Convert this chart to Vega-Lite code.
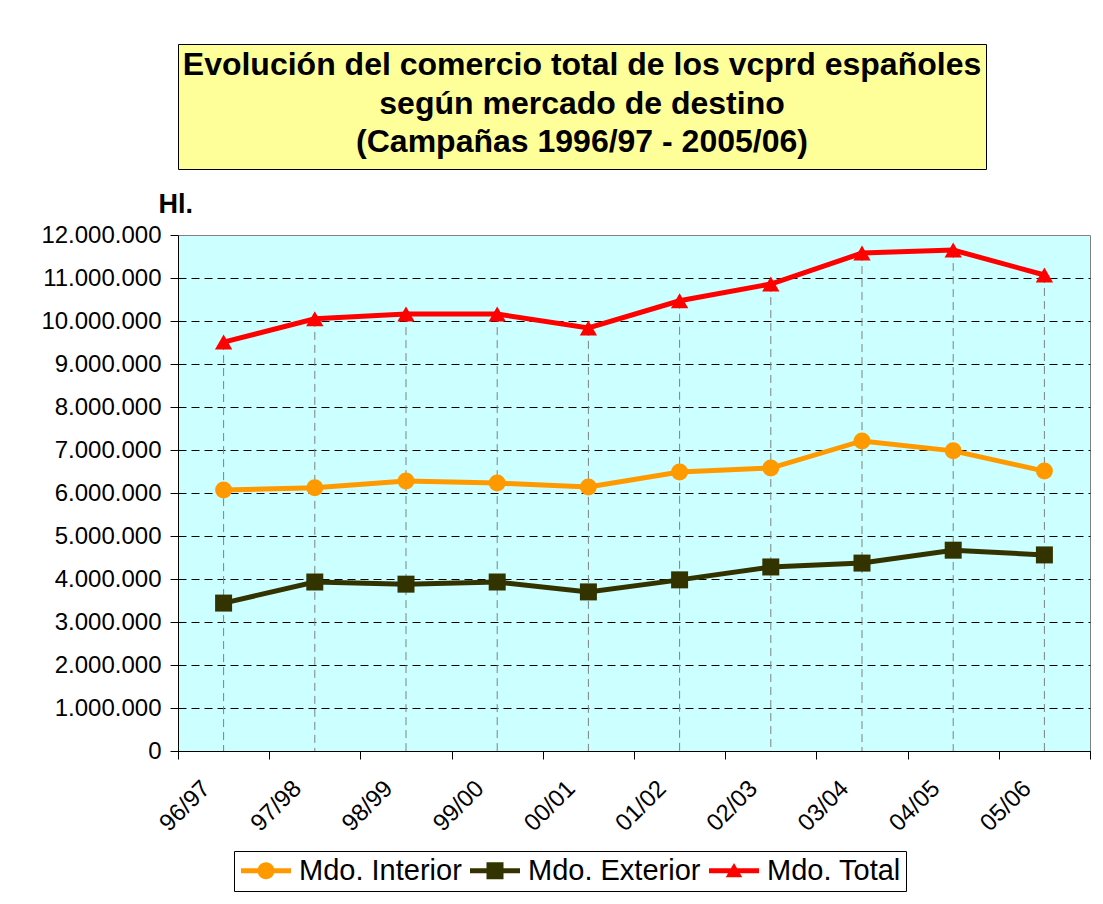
{
  "$schema": "https://vega.github.io/schema/vega-lite/v6.json",
  "background": "white",
  "padding": {"left": 40, "top": 43, "right": 10, "bottom": 10},
  "autosize": {"type": "pad"},
  "config": {
    "locale": {"number": {"decimal": ",", "thousands": ".", "grouping": [3], "currency": ["", " €"]}},
    "font": "Liberation Sans"
  },
  "datasets": {
    "titulo": [
      {"orden": 1, "texto": "Evolución del comercio total de los vcprd españoles"},
      {"orden": 2, "texto": "según mercado de destino"},
      {"orden": 3, "texto": "(Campañas 1996/97 - 2005/06)"}
    ],
    "comercio": [
      {"campana": "96/97", "serie": "Mdo. Interior", "valor": 6070000},
      {"campana": "97/98", "serie": "Mdo. Interior", "valor": 6120000},
      {"campana": "98/99", "serie": "Mdo. Interior", "valor": 6280000},
      {"campana": "99/00", "serie": "Mdo. Interior", "valor": 6230000},
      {"campana": "00/01", "serie": "Mdo. Interior", "valor": 6140000},
      {"campana": "01/02", "serie": "Mdo. Interior", "valor": 6490000},
      {"campana": "02/03", "serie": "Mdo. Interior", "valor": 6580000},
      {"campana": "03/04", "serie": "Mdo. Interior", "valor": 7210000},
      {"campana": "04/05", "serie": "Mdo. Interior", "valor": 6980000},
      {"campana": "05/06", "serie": "Mdo. Interior", "valor": 6510000},
      {"campana": "96/97", "serie": "Mdo. Exterior", "valor": 3440000},
      {"campana": "97/98", "serie": "Mdo. Exterior", "valor": 3930000},
      {"campana": "98/99", "serie": "Mdo. Exterior", "valor": 3880000},
      {"campana": "99/00", "serie": "Mdo. Exterior", "valor": 3930000},
      {"campana": "00/01", "serie": "Mdo. Exterior", "valor": 3700000},
      {"campana": "01/02", "serie": "Mdo. Exterior", "valor": 3980000},
      {"campana": "02/03", "serie": "Mdo. Exterior", "valor": 4280000},
      {"campana": "03/04", "serie": "Mdo. Exterior", "valor": 4370000},
      {"campana": "04/05", "serie": "Mdo. Exterior", "valor": 4670000},
      {"campana": "05/06", "serie": "Mdo. Exterior", "valor": 4560000},
      {"campana": "96/97", "serie": "Mdo. Total", "valor": 9510000},
      {"campana": "97/98", "serie": "Mdo. Total", "valor": 10050000},
      {"campana": "98/99", "serie": "Mdo. Total", "valor": 10160000},
      {"campana": "99/00", "serie": "Mdo. Total", "valor": 10160000},
      {"campana": "00/01", "serie": "Mdo. Total", "valor": 9840000},
      {"campana": "01/02", "serie": "Mdo. Total", "valor": 10470000},
      {"campana": "02/03", "serie": "Mdo. Total", "valor": 10860000},
      {"campana": "03/04", "serie": "Mdo. Total", "valor": 11580000},
      {"campana": "04/05", "serie": "Mdo. Total", "valor": 11650000},
      {"campana": "05/06", "serie": "Mdo. Total", "valor": 11070000}
    ]
  },
  "spacing": 19,
  "columns": 1,
  "align": "none",
  "bounds": "full",
  "concat": [
    {
      "width": 808,
      "height": 125,
      "view": {"fill": "#FFFF99", "stroke": "#000000", "strokeWidth": 1},
      "data": {"name": "titulo"},
      "mark": {"type": "text", "fontSize": 32, "fontWeight": "bold", "font": "Liberation Sans", "color": "#000000", "baseline": "middle", "dy": -3},
      "encoding": {
        "y": {"field": "orden", "type": "ordinal", "scale": {"type": "point", "padding": 0.623}, "axis": null},
        "text": {"field": "texto"}
      }
    },
    {
      "width": 912,
      "height": 516,
      "view": {"fill": "#CCFFFF", "stroke": "#808080", "strokeWidth": 1},
      "data": {"name": "comercio"},
      "encoding": {
        "x": {
          "field": "campana", "type": "ordinal",
          "scale": {"type": "band", "paddingInner": 0, "paddingOuter": 0,
                    "domain": ["96/97", "97/98", "98/99", "99/00", "00/01", "01/02", "02/03", "03/04", "04/05", "05/06"]},
          "axis": {
            "title": null, "labelAngle": -45, "labelAlign": "right", "labelBaseline": "top",
            "labelFontSize": 24, "labelFont": "Liberation Sans", "labelColor": "#000000",
            "labelPadding": 17, "labelOffset": -26, "tickBand": "extent", "tickSize": 8,
            "tickColor": "#000000", "domainColor": "#000000", "grid": false
          }
        },
        "y": {
          "field": "valor", "type": "quantitative",
          "scale": {"domain": [0, 12000000], "nice": false},
          "axis": {
            "title": "Hl.", "titleAngle": 0, "titleAlign": "left", "titleBaseline": "alphabetic",
            "titleX": -20, "titleY": -23, "titleFontSize": 27, "titleFontWeight": "bold",
            "titleColor": "#000000", "titleFont": "Liberation Sans",
            "values": [0, 1000000, 2000000, 3000000, 4000000, 5000000, 6000000, 7000000, 8000000, 9000000, 10000000, 11000000, 12000000],
            "format": ",d", "labelFontSize": 24, "labelFont": "Liberation Sans", "labelColor": "#000000",
            "labelPadding": 9, "tickSize": 8, "tickColor": "#000000", "domainColor": "#000000",
            "grid": true, "gridColor": "#000000", "gridDash": [8, 5],
            "gridOpacity": {"condition": {"test": "datum.value >= 12000000", "value": 0}, "value": 1}
          }
        }
      },
      "layer": [
        {
          "transform": [{"filter": "datum.serie === 'Mdo. Total'"}],
          "mark": {"type": "rule", "color": "#808080", "strokeDash": [8, 5], "strokeWidth": 1},
          "encoding": {"y2": {"datum": 0}}
        },
        {
          "transform": [{"filter": "datum.serie === 'Mdo. Interior'"}],
          "mark": {"type": "line", "strokeWidth": 5, "color": "#FF9900"}
        },
        {
          "transform": [{"filter": "datum.serie === 'Mdo. Exterior'"}],
          "mark": {"type": "line", "strokeWidth": 5, "color": "#333300"}
        },
        {
          "transform": [{"filter": "datum.serie === 'Mdo. Total'"}],
          "mark": {"type": "line", "strokeWidth": 5, "color": "#FF0000"}
        },
        {
          "transform": [{"filter": "datum.serie === 'Mdo. Interior'"}],
          "mark": {"type": "point", "shape": "circle", "filled": true, "opacity": 1, "size": 289, "color": "#FF9900"}
        },
        {
          "transform": [{"filter": "datum.serie === 'Mdo. Exterior'"}],
          "mark": {"type": "point", "shape": "square", "filled": true, "opacity": 1, "size": 289, "color": "#333300"}
        },
        {
          "transform": [{"filter": "datum.serie === 'Mdo. Total'"}],
          "mark": {"type": "point", "shape": "triangle-up", "filled": true, "opacity": 1, "size": 300, "color": "#FF0000"}
        },
        {
          "transform": [{"filter": "datum.valor < 0"}],
          "mark": {"type": "point", "filled": true, "opacity": 1, "size": 625, "strokeWidth": 0},
          "encoding": {
            "color": {"field": "serie", "type": "nominal",
                      "scale": {"domain": ["Mdo. Interior", "Mdo. Exterior", "Mdo. Total"], "range": ["#FF9900", "#333300", "#FF0000"]},
                      "legend": {"orient": "none", "legendX": 56, "legendY": 807, "direction": "horizontal", "title": null,
                                 "labelFontSize": 29, "labelFont": "Liberation Sans", "labelColor": "#000000", "labelOffset": 31,
                                 "labelLimit": 400, "columnPadding": 6, "padding": 5, "strokeColor": "#000000", "fillColor": "#FFFFFF",
                                 "symbolStrokeWidth": 0, "symbolOpacity": 1, "symbolSize": 625}},
            "shape": {"field": "serie", "type": "nominal",
                      "scale": {"domain": ["Mdo. Interior", "Mdo. Exterior", "Mdo. Total"],
                                "range": [
                                  "M-1,-0.2L3,-0.2L3,0.2L-1,0.2Z M0.32,0A0.68,0.68 0 1,1 1.68,0A0.68,0.68 0 1,1 0.32,0Z",
                                  "M-1,-0.2L3,-0.2L3,0.2L-1,0.2Z M0.32,-0.68L1.68,-0.68L1.68,0.68L0.32,0.68Z",
                                  "M-1,-0.2L3,-0.2L3,0.2L-1,0.2Z M1,-0.62L1.66,0.52L0.34,0.52Z"
                                ]},
                      "legend": {"orient": "none", "legendX": 56, "legendY": 807, "direction": "horizontal", "title": null,
                                 "labelFontSize": 29, "labelFont": "Liberation Sans", "labelColor": "#000000", "labelOffset": 31,
                                 "labelLimit": 400, "columnPadding": 6, "padding": 5, "strokeColor": "#000000", "fillColor": "#FFFFFF",
                                 "symbolStrokeWidth": 0, "symbolOpacity": 1, "symbolSize": 625}}
          }
        }
      ]
    }
  ]
}
